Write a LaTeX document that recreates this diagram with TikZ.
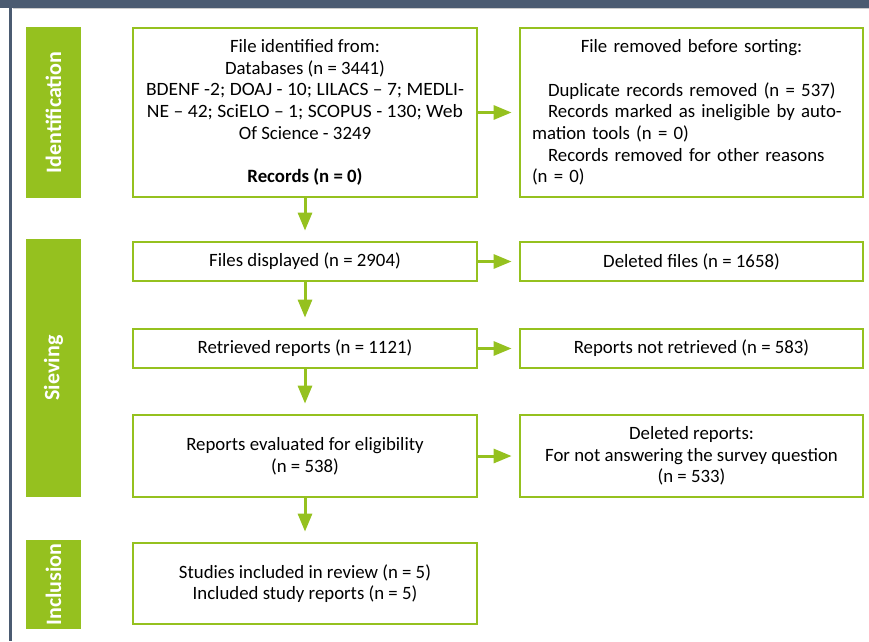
\documentclass[tikz,border=0pt]{standalone}
\usepackage{fontspec}
\setmainfont{Carlito}
\usepackage{xcolor}
\usetikzlibrary{arrows.meta,positioning}

\definecolor{lime}{HTML}{95C11F}
\definecolor{slate}{HTML}{4B5B71}

\begin{document}
\begin{tikzpicture}[x=1pt, y=-1pt,
    box/.style={draw=lime, line width=2.8pt, fill=white, inner sep=0pt, align=center,
        minimum width=344pt, font=\fontsize{18.8}{21.7}\selectfont},
    bar/.style={fill=lime, text=white, inner sep=0pt, minimum width=55pt,
        font=\bfseries\fontsize{22}{24}\selectfont},
    arr/.style={lime, line width=3pt, -{Triangle[length=18pt, width=14pt]}}]
    \useasboundingbox (0,0) rectangle (869,641);

    % Frame
    \fill[slate] (0,0) rectangle (869,8);
    \fill[slate] (9,8) rectangle (12,641);
    \draw[gray!40, line width=0.6pt] (13,8.5) -- (869,8.5);

    % Phase bars
    \node[bar, minimum height=171pt] (idbar) at (53.5,112.5) {\rotatebox{90}{Identification}};
    \node[bar, minimum height=258pt] (svbar) at (53.5,368) {\rotatebox{90}{Sieving}};
    \node[bar, minimum height=89pt] (inbar) at (53.5,584.5) {\rotatebox{90}{Inclusion}};

    % Left column
    \node[box, minimum height=169pt] (ident) at (305,112.5)
        {File identified from:\\Databases (n = 3441)\\
         \resizebox{318pt}{\height}{BDENF -2; DOAJ - 10; LILACS – 7; MEDLI-}\\
         \resizebox{316pt}{\height}{NE – 42; SciELO – 1; SCOPUS - 130; Web}\\
         Of Science - 3249\\[21.7pt]\textbf{Records (n = 0)}};
    \node[box, minimum height=39pt] (shown) at (305,261.5) {Files displayed (n = 2904)};
    \node[box, minimum height=39pt] (retr) at (305,348.5) {Retrieved reports (n = 1121)};
    \node[box, minimum height=82pt] (elig) at (305,456)
        {Reports evaluated for eligibility\\(n = 538)};
    \node[box, minimum height=81pt] (incl) at (305,583.5)
        {Studies included in review (n = 5)\\Included study reports (n = 5)};

    % Right column
    \node[box, minimum width=343pt, minimum height=169pt, align=left, text width=319pt,
        inner xsep=12pt] (removed) at (691.5,112.5)
        {\hfill File removed before sorting:\hfill\null\\[21.7pt]
         \hspace*{16pt}Duplicate records removed (n = 537)\\
         \hspace*{16pt}Records marked as ineligible by auto-\\
         mation tools (n = 0)\\
         \hspace*{16pt}Records removed for other reasons\\
         (n = 0)};
    \node[box, minimum width=343pt, minimum height=39pt] (delfiles) at (691.5,261.5) {Deleted files (n = 1658)};
    \node[box, minimum width=343pt, minimum height=39pt] (notretr) at (691.5,348.5) {Reports not retrieved (n = 583)};
    \node[box, minimum width=343pt, minimum height=82pt] (delrep) at (691.5,456)
        {Deleted reports:\\For not answering the survey question\\(n = 533)};

    % Arrows
    \draw[arr, shorten >=10pt] (ident) -- (shown);
    \draw[arr, shorten >=10pt] (shown) -- (retr);
    \draw[arr, shorten >=10pt] (retr) -- (elig);
    \draw[arr, shorten >=10pt] (elig) -- (incl);
    \draw[arr, shorten >=7pt] (ident) -- (removed);
    \draw[arr, shorten >=7pt] (shown) -- (delfiles);
    \draw[arr, shorten >=7pt] (retr) -- (notretr);
    \draw[arr, shorten >=7pt] (elig) -- (delrep);
\end{tikzpicture}
\end{document}
